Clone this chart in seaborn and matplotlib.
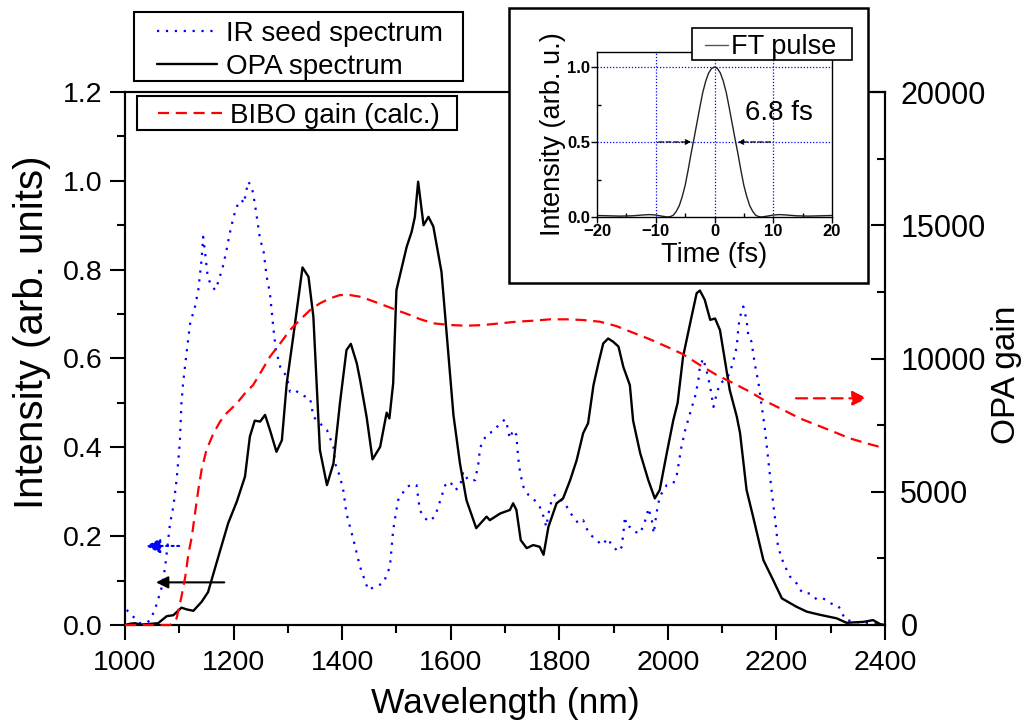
import numpy as np
import pandas as pd
import matplotlib
matplotlib.use("Agg")
import matplotlib.pyplot as plt
import seaborn as sns
from matplotlib.patches import Rectangle
from matplotlib.lines import Line2D
from matplotlib.ticker import MultipleLocator, FormatStrFormatter

# ---------------- data ----------------
seed_wl = [1003, 1015, 1028, 1040, 1046, 1055, 1068, 1074, 1083, 1089, 1095, 1101, 1104, 1107, 1114, 1120,
           1129, 1135, 1141, 1144, 1147, 1152, 1157, 1166, 1172, 1181, 1187, 1193, 1200, 1206, 1211, 1215,
           1219, 1223, 1227, 1233, 1236, 1241, 1249, 1255, 1261, 1267, 1270, 1273, 1278, 1286, 1298, 1304,
           1313, 1325, 1341, 1347, 1359, 1372, 1384, 1387, 1396, 1402, 1408, 1421, 1433, 1448, 1460, 1476,
           1488, 1494, 1503, 1519, 1530, 1537, 1543, 1550, 1559, 1571, 1580, 1590, 1599, 1608, 1617, 1623,
           1632, 1645, 1651, 1654, 1660, 1669, 1678, 1688, 1700, 1703, 1709, 1715, 1721, 1724, 1728, 1734,
           1743, 1752, 1764, 1771, 1776, 1780, 1786, 1792, 1801, 1814, 1823, 1835, 1844, 1850, 1857, 1866,
           1878, 1890, 1896, 1909, 1915, 1918, 1921, 1924, 1930, 1939, 1949, 1955, 1961, 1964, 1970, 1974,
           1979, 1985, 1998, 2010, 2016, 2025, 2032, 2041, 2050, 2056, 2059, 2065, 2071, 2078, 2084, 2090,
           2096, 2105, 2114, 2121, 2127, 2130, 2133, 2139, 2145, 2148, 2154, 2160, 2167, 2173, 2179, 2185,
           2191, 2197, 2203, 2213, 2225, 2237, 2243, 2250, 2262, 2274, 2286, 2299, 2314, 2320, 2326, 2342,
           2366, 2385, 2396]
seed_int = [0.034, 0.019, 0.004, 0.005, 0.011, 0.034, 0.086, 0.131, 0.229, 0.266, 0.326, 0.41, 0.5, 0.544,
            0.619, 0.679, 0.717, 0.754, 0.822, 0.874, 0.844, 0.788, 0.769, 0.754, 0.773, 0.81, 0.844, 0.882,
            0.919, 0.942, 0.953, 0.957, 0.949, 0.975, 0.998, 0.987, 0.972, 0.934, 0.867, 0.844, 0.784, 0.747,
            0.709, 0.672, 0.619, 0.581, 0.559, 0.525, 0.529, 0.518, 0.51, 0.469, 0.454, 0.439, 0.401, 0.364,
            0.334, 0.304, 0.251, 0.191, 0.131, 0.079, 0.086, 0.094, 0.131, 0.214, 0.281, 0.311, 0.317, 0.315,
            0.259, 0.244, 0.233, 0.244, 0.278, 0.315, 0.323, 0.304, 0.311, 0.345, 0.326, 0.326, 0.364, 0.398,
            0.416, 0.432, 0.435, 0.45, 0.463, 0.454, 0.42, 0.439, 0.428, 0.379, 0.342, 0.311, 0.293, 0.285,
            0.266, 0.244, 0.221, 0.251, 0.281, 0.293, 0.285, 0.266, 0.248, 0.229, 0.236, 0.218, 0.203, 0.195,
            0.18, 0.195, 0.18, 0.165, 0.176, 0.206, 0.244, 0.221, 0.221, 0.21, 0.206, 0.225, 0.244, 0.263,
            0.24, 0.206, 0.251, 0.289, 0.315, 0.319, 0.334, 0.401, 0.439, 0.477, 0.514, 0.548, 0.581, 0.6,
            0.574, 0.536, 0.491, 0.521, 0.544, 0.552, 0.566, 0.597, 0.627, 0.672, 0.694, 0.717, 0.687, 0.653,
            0.638, 0.589, 0.544, 0.491, 0.439, 0.371, 0.304, 0.244, 0.176, 0.139, 0.109, 0.094, 0.08, 0.071,
            0.071, 0.058, 0.06, 0.049, 0.043, 0.03, 0.013, 0.007, 0.005, 0.004, 0.002]

opa_wl = [1000, 1010, 1018, 1030, 1061, 1077, 1089, 1104, 1114, 1126, 1141, 1153, 1172, 1190, 1206, 1221,
          1230, 1239, 1249, 1258, 1267, 1279, 1289, 1298, 1310, 1327, 1338, 1347, 1359, 1372, 1384, 1396,
          1408, 1416, 1427, 1433, 1445, 1456, 1470, 1482, 1487, 1494, 1500, 1519, 1528, 1534, 1540, 1550,
          1559, 1568, 1583, 1593, 1605, 1617, 1629, 1647, 1666, 1672, 1691, 1709, 1715, 1721, 1729, 1740,
          1752, 1764, 1771, 1780, 1795, 1807, 1820, 1832, 1844, 1853, 1863, 1872, 1881, 1890, 1899, 1909,
          1918, 1930, 1936, 1949, 1964, 1976, 1985, 1998, 2010, 2018, 2028, 2041, 2053, 2059, 2068, 2078,
          2087, 2096, 2102, 2114, 2127, 2133, 2145, 2157, 2176, 2194, 2210, 2237, 2256, 2280, 2311, 2329,
          2360, 2378, 2391, 2400]
opa_int = [0.0, 0.003, 0.004, 0.001, 0.004, 0.02, 0.022, 0.039, 0.035, 0.032, 0.052, 0.074, 0.154, 0.229,
           0.278, 0.334, 0.424, 0.46, 0.458, 0.473, 0.439, 0.39, 0.416, 0.545, 0.65, 0.805, 0.784, 0.694,
           0.394, 0.315, 0.364, 0.5, 0.619, 0.633, 0.589, 0.552, 0.469, 0.373, 0.401, 0.478, 0.465, 0.544,
           0.754, 0.852, 0.885, 0.919, 0.998, 0.9, 0.919, 0.897, 0.795, 0.649, 0.473, 0.364, 0.281, 0.218,
           0.244, 0.236, 0.251, 0.259, 0.274, 0.259, 0.191, 0.173, 0.18, 0.176, 0.158, 0.221, 0.274, 0.285,
           0.326, 0.371, 0.432, 0.454, 0.54, 0.589, 0.634, 0.645, 0.638, 0.627, 0.581, 0.54, 0.46, 0.387,
           0.326, 0.285, 0.304, 0.387, 0.461, 0.5, 0.604, 0.679, 0.747, 0.753, 0.732, 0.687, 0.69, 0.664,
           0.619, 0.529, 0.469, 0.432, 0.304, 0.244, 0.146, 0.101, 0.06, 0.041, 0.03, 0.023, 0.015, 0.005,
           0.007, 0.011, 0.002, 0.0]

gain_wl = [1000, 1083, 1090, 1095, 1104, 1111, 1117, 1123, 1129, 1135, 1141, 1150, 1163, 1175, 1187, 1206,
           1221, 1236, 1249, 1267, 1286, 1304, 1322, 1341, 1359, 1378, 1396, 1414, 1433, 1451, 1476, 1500,
           1525, 1543, 1568, 1599, 1629, 1660, 1691, 1721, 1752, 1783, 1814, 1844, 1875, 1905, 1936, 1967,
           1998, 2028, 2059, 2090, 2121, 2151, 2182, 2213, 2243, 2274, 2305, 2335, 2366, 2400]
gain_val = [0, 0, 100, 250, 1062, 1812, 2690, 3300, 4191, 5065, 5816, 6566, 7193, 7628, 7943, 8318, 8693,
            9005, 9443, 10067, 10570, 11068, 11444, 11819, 12070, 12258, 12382, 12382, 12318, 12194, 12006,
            11819, 11631, 11480, 11320, 11256, 11230, 11256, 11320, 11380, 11418, 11470, 11470, 11444, 11380,
            11218, 10967, 10720, 10442, 10160, 9755, 9380, 9069, 8753, 8378, 8067, 7755, 7504, 7254, 7005,
            6817, 6630]

pulse_t = [-20, -18, -16, -14, -12, -11, -10, -9, -8, -7.5, -7, -6.5, -6, -5.5, -5, -4.5, -4, -3.5, -3,
           -2.5, -2, -1.5, -1, -0.5, 0, 0.5, 1, 1.5, 2, 2.5, 3, 3.5, 4, 4.5, 5, 5.5, 6, 6.5, 7, 7.5, 8, 9,
           10, 11, 12, 14, 16, 18, 20]
pulse_i = [0.010, 0.008, 0.006, 0.008, 0.014, 0.016, 0.013, 0.006, 0.0, 0.003, 0.012, 0.038, 0.075, 0.135,
           0.21, 0.31, 0.42, 0.52, 0.625, 0.73, 0.83, 0.905, 0.96, 0.99, 1.0, 0.99, 0.96, 0.905, 0.83, 0.73,
           0.625, 0.52, 0.42, 0.31, 0.21, 0.135, 0.075, 0.038, 0.012, 0.003, 0.0, 0.006, 0.013, 0.016, 0.014,
           0.008, 0.006, 0.008, 0.010]

x_ticks = [1000, 1200, 1400, 1600, 1800, 2000, 2200, 2400]
labels_main = ["IR seed spectrum", "OPA spectrum", "BIBO gain (calc.)"]

# ---------------- styling ----------------
sns.set_theme(style="ticks")
plt.rcParams["font.family"] = ["Liberation Sans", "DejaVu Sans"]
for k in ("text.color", "axes.labelcolor", "xtick.color", "ytick.color", "axes.edgecolor"):
    plt.rcParams[k] = "black"
plt.rcParams["axes.linewidth"] = 1.5

W, H = 1027, 724
fig = plt.figure(figsize=(W / 100, H / 100), dpi=100)
fig.patch.set_facecolor("white")

ax = fig.add_axes([125 / W, 1 - 625 / H, 760 / W, 533 / H])
ax2 = ax.twinx()

seed_ls = (0, (1, 3))
gain_ls = (0, (5, 3))

sns.lineplot(x=seed_wl, y=seed_int, ax=ax, color="#0000ff", lw=1.6, estimator=None, sort=False, legend=False)
ax.lines[-1].set_linestyle(seed_ls)
sns.lineplot(x=opa_wl, y=opa_int, ax=ax, color="black", lw=1.7, estimator=None, sort=False, legend=False)
sns.lineplot(x=gain_wl, y=gain_val, ax=ax2, color="#ff0000", lw=1.6, estimator=None, sort=False, legend=False)
ax2.lines[-1].set_linestyle(gain_ls)
for ln in ax.lines + ax2.lines:
    ln.set_zorder(3)
    ln.set_clip_on(False)

ax.set_xlim(1000, 2400)
ax.set_ylim(0, 1.2)
ax2.set_ylim(0, 20000)
ax.set_xticks(x_ticks)
ax.xaxis.set_minor_locator(MultipleLocator(100))
ax.yaxis.set_major_locator(MultipleLocator(0.2))
ax.yaxis.set_minor_locator(MultipleLocator(0.1))
ax.yaxis.set_major_formatter(FormatStrFormatter("%.1f"))
ax2.yaxis.set_major_locator(MultipleLocator(5000))
ax2.yaxis.set_minor_locator(MultipleLocator(2500))

ax.tick_params(axis="both", which="major", direction="out", length=11, width=1.5, labelsize=20.5,
               pad=5, colors="black")
ax.tick_params(axis="both", which="minor", direction="out", length=6, width=1.5)
ax.tick_params(axis="x", which="major", pad=7)
ax.tick_params(top=False, right=False, which="both")
ax2.tick_params(axis="y", which="major", direction="in", length=10, width=1.5, labelsize=22, pad=11)
ax2.tick_params(axis="y", which="minor", direction="in", length=6, width=1.5)
for a in (ax, ax2):
    for s in a.spines.values():
        s.set_linewidth(1.5)
        s.set_color("black")

ax.set_xlabel("Wavelength (nm)", fontsize=25.5)
ax.set_ylabel("Intensity (arb. units)", fontsize=29)
ax2.set_ylabel("OPA gain", fontsize=24)
ax.xaxis.label.set_va("center")
ax.xaxis.set_label_coords(0.5, -0.148)
ax.yaxis.label.set_va("center")
ax.yaxis.set_label_coords(-0.122, 0.55)
ax2.yaxis.label.set_va("center")
ax2.yaxis.label.set_rotation(90)
ax2.yaxis.set_label_coords(1.16, 0.47)

# arrows indicating the axis of each curve
ax.annotate("", xy=(1033, 0.178), xytext=(1105, 0.178),
            arrowprops=dict(arrowstyle="-|>", color="#0000ff", lw=1.5, ls=":", mutation_scale=22))
ax.annotate("", xy=(1052, 0.096), xytext=(1188, 0.096),
            arrowprops=dict(arrowstyle="-|>", color="black", lw=1.5, mutation_scale=18))
ax2.annotate("", xy=(2372, 8506), xytext=(2231, 8506),
             arrowprops=dict(arrowstyle="-|>", color="#ff0000", lw=1.6, ls=(0, (5, 3)), mutation_scale=22))

# legend frames (drawn as figure rectangles) and legends
def frame(x0, y0, x1, y1, lw=1.5, z=4):
    r = Rectangle((x0 / W, 1 - y1 / H), (x1 - x0) / W, (y1 - y0) / H, transform=fig.transFigure,
                  facecolor="white", edgecolor="black", lw=lw, zorder=z)
    fig.patches.append(r)

frame(134, 12, 463, 81)
frame(137, 96, 457, 130)

h_seed = Line2D([], [], color="#0000ff", lw=1.6, ls=seed_ls)
h_opa = Line2D([], [], color="black", lw=1.7)
h_gain = Line2D([], [], color="#ff0000", lw=1.6, ls=gain_ls)
leg_kw = dict(loc="upper left", frameon=False, fontsize=20, handlelength=2.16, handletextpad=0.32,
              borderpad=0, labelspacing=0.25, borderaxespad=0)
leg1 = fig.legend([h_seed, h_opa], labels_main[:2], bbox_to_anchor=(157 / W, 1 - 21 / H), **leg_kw)
leg2 = fig.legend([h_gain], labels_main[2:], bbox_to_anchor=(158 / W, 1 - 103 / H),
                  **{**leg_kw, "handlelength": 2.3, "handletextpad": 0.28})

# inset frame
frame(509, 8, 868, 283, lw=1.8, z=1)

axi = fig.add_axes([597 / W, 1 - 217 / H, 235 / W, 165 / H], zorder=3)
for v in (-10, 0, 10):
    axi.axvline(v, color="#0000ff", lw=0.9, ls=(0, (1, 1.5)), zorder=1)
for v in (0.5, 1.0):
    axi.axhline(v, color="#0000ff", lw=0.9, ls=(0, (1, 1.5)), zorder=1)
sns.lineplot(x=pulse_t, y=pulse_i, ax=axi, color="#222222", lw=1.0, estimator=None, sort=False,
             legend=False)
axi.set_xlim(-20, 20)
axi.set_ylim(0, 1.1)
axi.set_xticks([-20, -10, 0, 10, 20])
axi.set_yticks([0.0, 0.5, 1.0])
axi.yaxis.set_major_formatter(FormatStrFormatter("%.1f"))
axi.xaxis.set_minor_locator(MultipleLocator(5))
axi.yaxis.set_minor_locator(MultipleLocator(0.25))
axi.tick_params(which="major", direction="out", length=4, width=1, labelsize=12, pad=1)
axi.tick_params(which="minor", direction="in", length=3, width=1)
for s in axi.spines.values():
    s.set_linewidth(1.0)
for lab in axi.get_xticklabels() + axi.get_yticklabels():
    lab.set_fontweight("bold")
axi.set_xlabel("Time (fs)", fontsize=19.5, labelpad=2)
axi.set_ylabel("Intensity (arb. u.)", fontsize=19.5, labelpad=1)
axi.annotate("", xy=(-3.5, 0.5), xytext=(-10, 0.5),
             arrowprops=dict(arrowstyle="-|>", color="black", lw=0.9, ls=(0, (4, 2)), mutation_scale=8))
axi.annotate("", xy=(3.5, 0.5), xytext=(10, 0.5),
             arrowprops=dict(arrowstyle="-|>", color="black", lw=0.9, ls=(0, (4, 2)), mutation_scale=8))
axi.text(5.2, 0.69, "6.8 fs", fontsize=20, va="center", ha="left")

frame(692, 28, 852, 60, lw=1.2, z=4)
h_pulse = Line2D([], [], color="#555555", lw=1.0)
fig.legend([h_pulse], ["FT pulse"], loc="upper left", bbox_to_anchor=(705 / W, 1 - 34 / H), frameon=False,
           fontsize=19.5, handlelength=0.85, handletextpad=0.11, borderpad=0, borderaxespad=0)

fig.savefig("out.png", dpi=100, facecolor="white")
